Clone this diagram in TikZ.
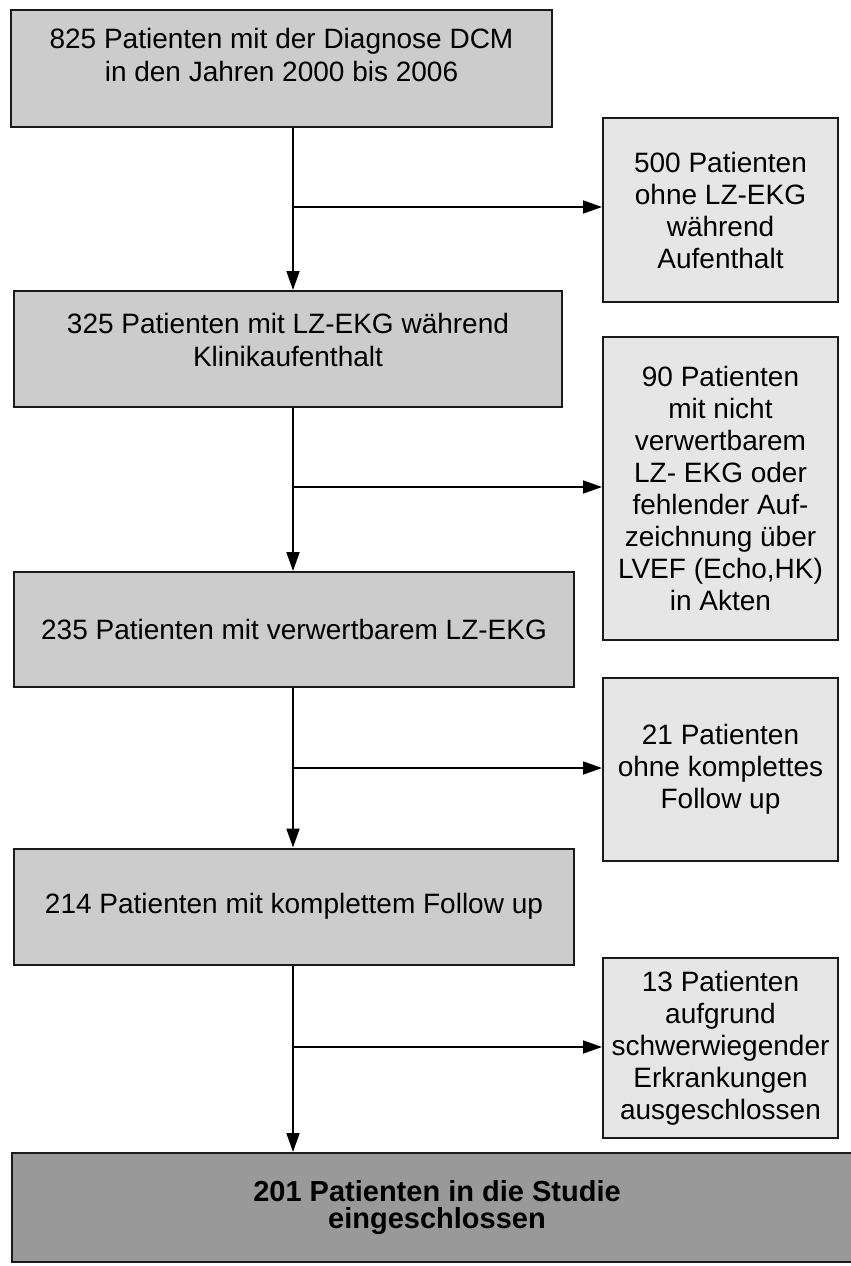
\documentclass[tikz,border=0pt]{standalone}
\usepackage{fontspec}
\setmainfont{Liberation Sans}
\usetikzlibrary{arrows.meta}
\definecolor{boxgray}{HTML}{CCCCCC}
\definecolor{sidegray}{HTML}{E6E6E6}
\definecolor{endgray}{HTML}{999999}
\definecolor{edgecol}{HTML}{1A1A1A}
\newcommand\liftup[2]{\raisebox{#1}[\height][\depth]{\begin{tabular}{@{}c@{}}#2\end{tabular}}}
\begin{document}
\begin{tikzpicture}[x=1pt,y=-1pt,
  base/.style={draw=edgecol, line width=2pt, inner sep=2pt, align=center,
    font=\fontsize{28}{33}\selectfont, text=black},
  mainbox/.style={base, fill=boxgray},
  sidebox/.style={base, fill=sidegray, font=\fontsize{28}{32}\selectfont},
  endbox/.style={base, fill=endgray, font=\bfseries\fontsize{29}{27}\selectfont},
  flow/.style={line width=1.8pt, -{Triangle[length=19pt,width=13pt]}}]
\useasboundingbox (0,0) rectangle (851,1266);
\fill[white] (0,0) rectangle (851,1266);

% main column
\node[mainbox, minimum width=541pt, minimum height=117pt] (b1) at (281.5,68.5)
  {\liftup{10pt}{825 Patienten mit der Diagnose DCM\\in den Jahren 2000 bis 2006}};
\node[mainbox, minimum width=548pt, minimum height=116pt] (b2) at (288,349)
  {\liftup{6pt}{325 Patienten mit LZ-EKG während\\Klinikaufenthalt}};
\node[mainbox, minimum width=560pt, minimum height=115pt] (b3) at (294,629.5)
  {235 Patienten mit verwertbarem LZ-EKG};
\node[mainbox, minimum width=560pt, minimum height=116pt] (b4) at (294,906.5)
  {214 Patienten mit komplettem Follow up};
\node[endbox, minimum width=850pt, minimum height=109pt] (b5) at (437,1207.5)
  {201 Patienten in die Studie\\eingeschlossen};

% side boxes
\node[sidebox, minimum width=235pt, minimum height=184pt] (r1) at (720.5,210)
  {500 Patienten\\ohne LZ-EKG\\während\\Aufenthalt};
\node[sidebox, minimum width=235pt, minimum height=303pt] (r2) at (720.5,488.5)
  {90 Patienten\\mit nicht\\verwertbarem\\LZ- EKG oder\\fehlender Auf-\\zeichnung über\\LVEF (Echo,HK)\\in Akten};
\node[sidebox, minimum width=235pt, minimum height=183pt] (r3) at (720.5,769.5)
  {21 Patienten\\ohne komplettes\\Follow up};
\node[sidebox, minimum width=235pt, minimum height=180pt] (r4) at (720.5,1048)
  {13 Patienten\\aufgrund\\schwerwiegender\\Erkrankungen\\ausgeschlossen};

% connectors
\coordinate (spine) at (293,0);
\coordinate (j1) at (293,207);
\coordinate (j2) at (293,487);
\coordinate (j3) at (293,768);
\coordinate (j4) at (293,1047);
\draw[flow] (b1.south -| spine) -- (b2.north -| spine);
\draw[flow] (b2.south -| spine) -- (b3.north -| spine);
\draw[flow] (b3.south -| spine) -- (b4.north -| spine);
\draw[flow] (b4.south -| spine) -- (b5.north -| spine);
\draw[flow] (j1) -- (j1 -| r1.west);
\draw[flow] (j2) -- (j2 -| r2.west);
\draw[flow] (j3) -- (j3 -| r3.west);
\draw[flow] (j4) -- (j4 -| r4.west);
\end{tikzpicture}
\end{document}
